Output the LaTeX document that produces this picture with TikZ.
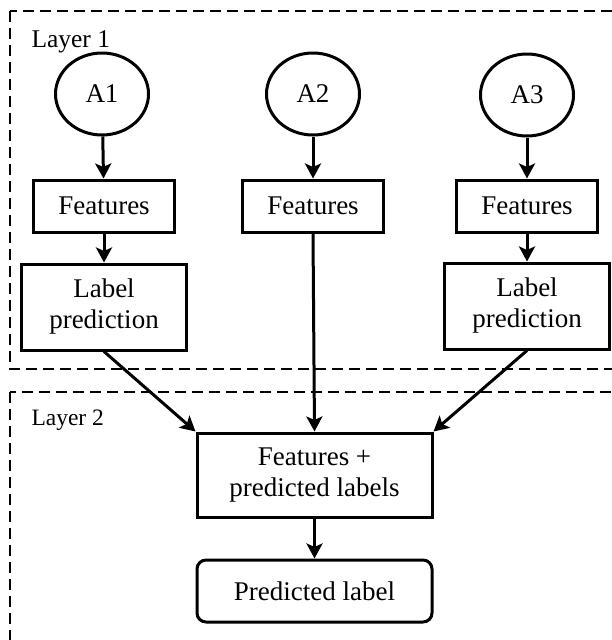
\documentclass[tikz,border=0pt]{standalone}
\usepackage{fontspec}
\setmainfont{Liberation Serif}
\usetikzlibrary{shapes.geometric,arrows.meta}

\begin{document}
\begin{tikzpicture}[x=1pt, y=-1pt, line width=3pt,
		font=\fontsize{27}{31}\selectfont,
		every node/.style={inner sep=0pt, align=center},
		alg/.style={ellipse, draw, minimum width=93pt, minimum height=82pt},
		box/.style={draw, minimum width=141pt, minimum height=52pt},
		predbox/.style={draw, minimum width=165pt, minimum height=86pt},
		layer/.style={draw, line width=2.8pt, dash pattern=on 11pt off 6pt},
		>={Stealth[length=15pt, width=16pt, inset=3.5pt]}]
		\useasboundingbox (0,0) rectangle (611,640);
		% the two layers
		\draw[layer] (10,11) rectangle (650,369);
		\draw[layer] (10,392) rectangle (650,690);
		\node[anchor=base west, font=\fontsize{25.5}{30}\selectfont] (layer1) at (30,47) {Layer 1};
		\node[anchor=base west, font=\fontsize{23.5}{28}\selectfont] (layer2) at (30,425) {Layer 2};
		% layer 1
		\node[alg] (a1) at (102,94) {A1};
		\node[alg] (a2) at (313,94) {A2};
		\node[alg] (a3) at (527,95) {A3};
		\node[box] (feat1) at (104,206) {Features};
		\node[box] (feat2) at (313,206) {Features};
		\node[box] (feat3) at (527,206) {Features};
		\node[predbox] (pred1) at (104,307) {Label\\prediction};
		\node[predbox] (pred3) at (527,306) {Label\\prediction};
		% layer 2
		\node[draw, minimum width=235pt, minimum height=84pt] (comb) at (314.5,475) {Features +\\predicted labels};
		\node[draw, rounded corners=9pt, minimum width=235pt, minimum height=62pt] (out) at (314.5,591) {Predicted label};
		\draw[->] (a1) -- (feat1);
		\draw[->] (a2) -- (feat2);
		\draw[->] (a3) -- (feat3);
		\draw[->] (feat1) -- (pred1);
		\draw[->] (feat3) -- (pred3);
		\draw[->] (pred1.south) -- (comb.north west);
		\draw[->] (feat2.south) -- (comb.north);
		\draw[->] (pred3.south) -- (comb.north east);
		\draw[->] (comb) -- (out);
	\end{tikzpicture}
\end{document}
